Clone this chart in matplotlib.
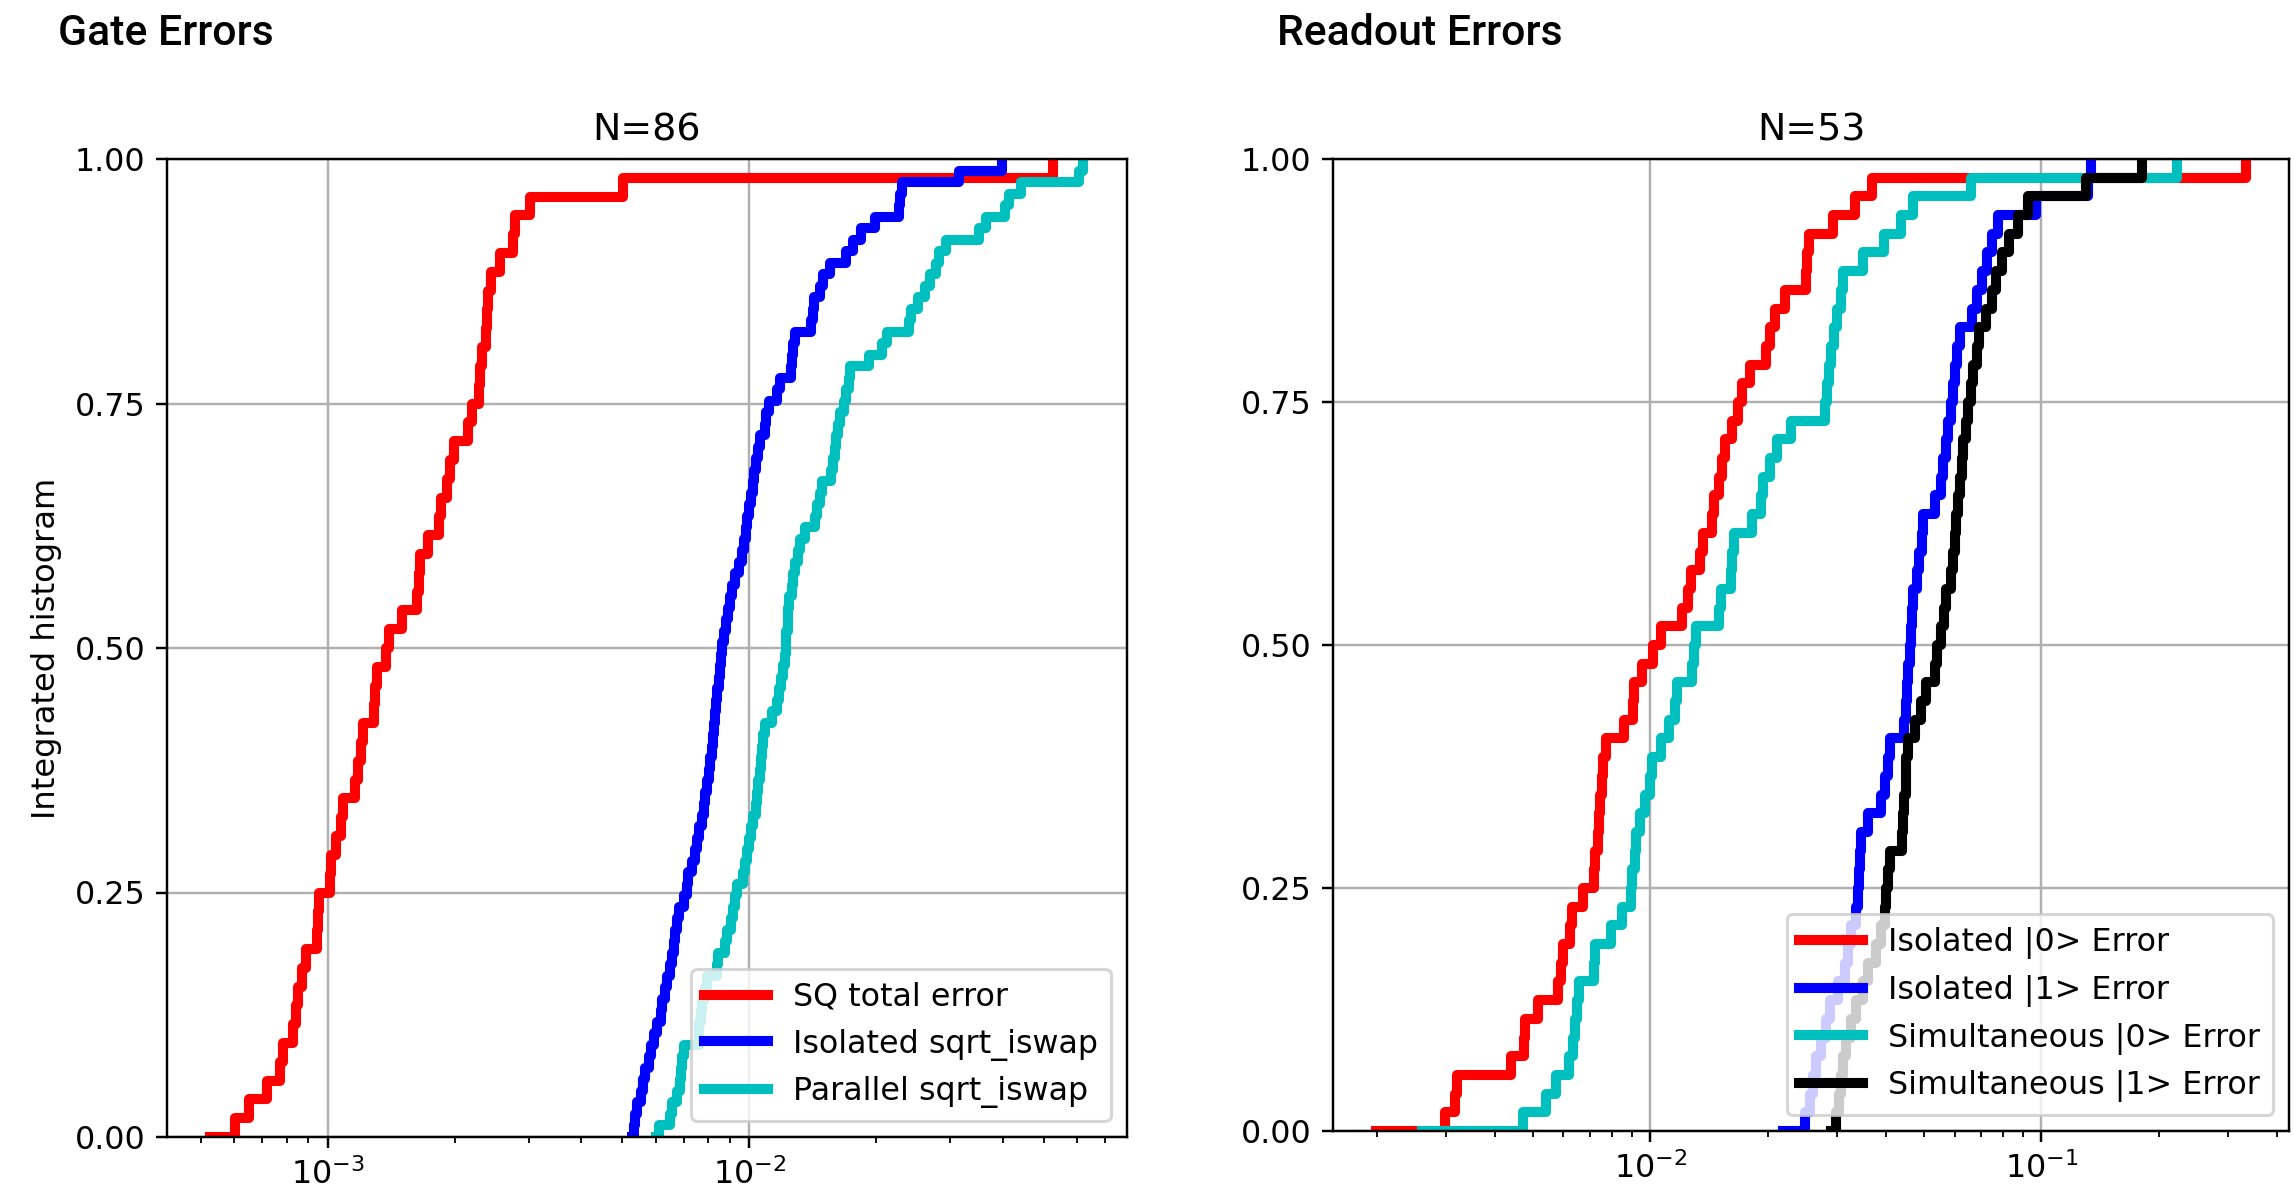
import numpy as np
import matplotlib
matplotlib.use("Agg")
import matplotlib.pyplot as plt

# -----------------------------
# Data (error values per qubit / pair)
# -----------------------------
n_pairs = 86

sq_total_error = [
    5.27e-4, 6.04e-4, 6.50e-4, 7.18e-4, 7.71e-4, 7.82e-4, 8.28e-4, 8.43e-4, 8.51e-4, 8.67e-4,
    8.87e-4, 9.44e-4, 9.48e-4, 9.55e-4, 1.012e-3, 1.021e-3, 1.047e-3, 1.076e-3, 1.086e-3, 1.164e-3,
    1.178e-3, 1.199e-3, 1.216e-3, 1.291e-3, 1.297e-3, 1.306e-3, 1.374e-3, 1.400e-3, 1.503e-3, 1.629e-3,
    1.644e-3, 1.660e-3, 1.730e-3, 1.837e-3, 1.854e-3, 1.919e-3, 1.950e-3, 1.991e-3, 2.148e-3, 2.198e-3,
    2.280e-3, 2.301e-3, 2.323e-3, 2.371e-3, 2.382e-3, 2.404e-3, 2.443e-3, 2.564e-3, 2.754e-3, 2.780e-3,
    3.013e-3, 5.023e-3, 5.27e-2,
]

isolated_sqrt_iswap = [
    .005284, .005321, .005346, .005433, .005534, .005610, .005675, .005781, .005861, .005943,
    .006053, .006166, .006223, .006324, .006383, .006501, .006561, .006622, .006683, .006745,
    .006808, .006998, .007112, .007178, .007311, .007447, .007516, .007621, .007727, .007798,
    .007870, .007943, .008017, .008072, .008147, .008222, .008260, .008299, .008356, .008395,
    .008472, .008511, .008570, .008630, .008710, .008810, .008913, .008995, .009099, .009268,
    .009484, .009594, .009727, .009817, .009908, .010000, .010116, .010233, .010280, .010375,
    .010495, .010593, .010889, .010990, .011169, .011641, .011858, .012560, .012618, .012706,
    .012823, .013996, .014158, .014223, .014689, .014962, .015560, .016943, .017620, .018450,
    .019861, .022699, .022856, .023014, .031477, .039811,
]

parallel_sqrt_iswap = [
    .005998, .006109, .006501, .006561, .006745, .006871, .006902, .006934, .006998, .007586,
    .007621, .007674, .007727, .007870, .007962, .008375, .008453, .008770, .008851, .009078,
    .009162, .009247, .009333, .009683, .009772, .009863, .010000, .010093, .010186, .010375,
    .010447, .010520, .010593, .010666, .010740, .010814, .010889, .011350, .011641, .011749,
    .011912, .012050, .012134, .012218, .012246, .012331, .012388, .012445, .012618, .012706,
    .012853, .013062, .013183, .013552, .014355, .014454, .014689, .014859, .015631, .015812,
    .015959, .016106, .016255, .016406, .016827, .016982, .017219, .017378, .019275, .020606,
    .021232, .023988, .024266, .025177, .026182, .026915, .027733, .028249, .029309, .035156,
    .036559, .040551, .041305, .044157, .060534, .061944,
]

isolated_0_error = [
    .001995, .002992, .003170, .003199, .004416, .004753, .004797, .005176, .005808, .005916,
    .005970, .006252, .006310, .006730, .007178, .007244, .007345, .007396, .007447, .007516,
    .007586, .007727, .008551, .009016, .009099, .009528, .010162, .010641, .012050, .012474,
    .012706, .013428, .013677, .014421, .014555, .014997, .015276, .015524, .016218, .016788,
    .017179, .017989, .019724, .020184, .020893, .022080, .025061, .025235, .025468, .029376,
    .033343, .036983, .332659,
]

isolated_1_error = [
    .021878, .024831, .025586, .026062, .026607, .027353, .028184, .028774, .030200, .031405,
    .031989, .032659, .033651, .033963, .034119, .034356, .034594, .035975, .038905, .039719,
    .040458, .041020, .044668, .044978, .045290, .045604, .046026, .046345, .046774, .046881,
    .047973, .048753, .049545, .049888, .053333, .055463, .056105, .057016, .057810, .058749,
    .059566, .060256, .060954, .061944, .066374, .068391, .070307, .072444, .074989, .077268,
    .096828, .131500, .134000,
]

simultaneous_0_error = [
    .002606, .004721, .005420, .005741, .006209, .006353, .006427, .006501, .006577, .007178,
    .007244, .007943, .008453, .008913, .008995, .009120, .009204, .009397, .009705, .010000,
    .010116, .010641, .011143, .011588, .011695, .012823, .012942, .013062, .014997, .015205,
    .016106, .016218, .016331, .018197, .019187, .019364, .020184, .021135, .022856, .027990,
    .028249, .028642, .028907, .029444, .030061, .030761, .031117, .034914, .039628, .043853,
    .046989, .066222, .222331,
]

simultaneous_1_error = [
    .029040, .029923, .030339, .030761, .031189, .031696, .032659, .033651, .034995, .035975,
    .037844, .038905, .039719, .040087, .040644, .041020, .044055, .044361, .044668, .044978,
    .045186, .045499, .047424, .049317, .050699, .053333, .053951, .055463, .056494, .057016,
    .058749, .059293, .059979, .060534, .061094, .061944, .062661, .063096, .064121, .064863,
    .066069, .066988, .068391, .069343, .072111, .074817, .076560, .079250, .082794, .086896,
    .092257, .129718, .181134,
]

gate_series = [
    ("SQ total error", sq_total_error, "r"),
    ("Isolated sqrt_iswap", isolated_sqrt_iswap, "b"),
    ("Parallel sqrt_iswap", parallel_sqrt_iswap, "c"),
]
readout_series = [
    ("Isolated |0> Error", isolated_0_error, "r"),
    ("Isolated |1> Error", isolated_1_error, "b"),
    ("Simultaneous |0> Error", simultaneous_0_error, "c"),
    ("Simultaneous |1> Error", simultaneous_1_error, "k"),
]

LW = 3.3
W, H = 2294, 1191
DPI = 220

plt.rcParams["xtick.labelsize"] = 10.4
plt.rcParams["ytick.labelsize"] = 10.4


def integrated_histogram(ax, values, color, label):
    x = np.sort(np.asarray(values, dtype=float))
    y = np.linspace(0, 1, len(x))
    ax.step(x, y, where="post", color=color, lw=LW, label=label)


def style_axes(ax, title):
    ax.set_xscale("log")
    ax.set_ylim(0, 1)
    ax.set_yticks([0.0, 0.25, 0.5, 0.75, 1.0])
    ax.grid(True)
    ax.set_title(title, fontsize=12.4)
    ax.legend(loc="lower right", fontsize=10.4)


fig = plt.figure(figsize=(W / DPI, H / DPI), dpi=DPI)

# axes boxes in pixels (the readout panel is a few pixels shorter)
ax1 = fig.add_axes([166.8 / W, (H - 1137) / H, (1126.6 - 166.8) / W, (1137 - 159) / H])
ax2 = fig.add_axes([1333 / W, (H - 1131) / H, (2289 - 1333) / W, (1131 - 159) / H])

for label, vals, c in gate_series:
    integrated_histogram(ax1, vals, c, label)
style_axes(ax1, f"N={n_pairs}")
ax1.set_ylabel("Integrated histogram", fontsize=10.5)

for label, vals, c in readout_series:
    integrated_histogram(ax2, vals, c, label)
style_axes(ax2, f"N={len(isolated_0_error)}")

# Section headers
fig.text(58 / W, 1 - 45 / H, "Gate Errors", family="Roboto", fontweight="medium",
         fontsize=14, va="baseline", ha="left")
fig.text(1277 / W, 1 - 45 / H, "Readout Errors", family="Roboto", fontweight="medium",
         fontsize=14, va="baseline", ha="left")

fig.savefig("out.png", dpi=DPI)
